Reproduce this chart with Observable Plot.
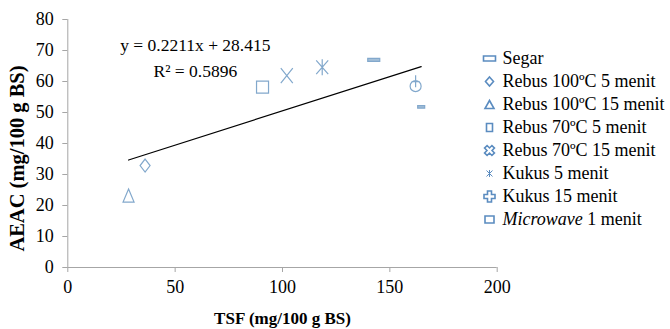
<!DOCTYPE html>
<html><head><meta charset="utf-8">
<script src="https://cdn.jsdelivr.net/npm/d3@7"></script>
<script src="https://cdn.jsdelivr.net/npm/@observablehq/plot@0.6"></script>
<style>
body{margin:0;background:#fff;}
#chart{position:relative;width:670px;height:329px;background:#fff;}
#legend{position:absolute;left:478px;top:33px;}
</style></head><body><div id="chart"></div>
<script>
// ---- data ----
const series = ["Segar","Rebus 100ºC 5 menit","Rebus 100ºC 15 menit","Rebus 70ºC 5 menit","Rebus 70ºC 15 menit","Kukus 5 menit","Kukus 15 menit","Microwave 1 menit"];
const tsf  = [142.5, 36.0, 28.3, 90.7, 102.0, 118.5, 162.0, 164.6];
const aeac = [67.0, 32.9, 23.2, 58.2, 61.9, 64.6, 58.5, 51.8];
const slope = 0.2211, intercept = 28.415;
const equationLines = ["y = 0.2211x + 28.415", "R² = 0.5896"];
const equationX = [59.4, 59.4];
const equationY = [71.6, 63.4];
const xTicks = [0, 50, 100, 150, 200];
const yTicks = [0, 10, 20, 30, 40, 50, 60, 70, 80];
const xLabel = "TSF (mg/100 g BS)";
const yLabel = "AEAC (mg/100 g BS)";

// ---- styling ----
const FONT = "'Liberation Serif','Times New Roman',serif";
const axisGray = "#a6a6a6";
const markColor = "#82a8cc";
const legendColor = "#5b8cc0";

// ---- custom symbols ----
const sym = f => ({draw(ctx){ f(ctx); }});
const rect = (w,h) => ctx => { ctx.moveTo(-w/2,-h/2); ctx.lineTo(w/2,-h/2); ctx.lineTo(w/2,h/2); ctx.lineTo(-w/2,h/2); ctx.closePath(); };
const diamond = (w,h) => ctx => { ctx.moveTo(0,-h/2); ctx.lineTo(w/2,0); ctx.lineTo(0,h/2); ctx.lineTo(-w/2,0); ctx.closePath(); };
const tri = (w,h) => ctx => { ctx.moveTo(0,-h/2); ctx.lineTo(w/2,h/2); ctx.lineTo(-w/2,h/2); ctx.closePath(); };
const cross = (w,h) => ctx => { ctx.moveTo(-w/2,-h/2); ctx.lineTo(w/2,h/2); ctx.moveTo(w/2,-h/2); ctx.lineTo(-w/2,h/2); };
const aster = (w,h) => ctx => { cross(w,h*0.85)(ctx); ctx.moveTo(0,-h/2); ctx.lineTo(0,h/2); };
const circlePlus = ctx => { ctx.moveTo(5.5,0); ctx.arc(0,0,5.5,0,2*Math.PI); ctx.moveTo(0,-11); ctx.lineTo(0,1); ctx.moveTo(-4,-4.5); ctx.lineTo(4,-4.5); };
const plusOutline = (a,L,rot) => ctx => {
  const pts = [[-a,-L],[a,-L],[a,-a],[L,-a],[L,a],[a,a],[a,L],[-a,L],[-a,a],[-L,a],[-L,-a],[-a,-a]];
  const c = Math.cos(rot), s = Math.sin(rot);
  pts.forEach(([x,y],i) => { const X = x*c - y*s, Y = x*s + y*c; i ? ctx.lineTo(X,Y) : ctx.moveTo(X,Y); });
  ctx.closePath();
};

const plotSymbols = [sym(rect(12,3)), sym(diamond(10,13)), sym(tri(11,13)), sym(rect(12,12)), sym(cross(12,15)), sym(aster(12,16)), sym(circlePlus), sym(rect(7,2.5))];
const plotFills   = ["#a3bfd8", "none", "none", "none", "none", "none", "none", "#a3bfd8"];
const legendSymbols = [sym(rect(12,5)), sym(diamond(8,9)), sym(tri(9,8)), sym(rect(6,8)), sym(plusOutline(1.8,5.2,Math.PI/4)), sym(aster(6,7)), sym(plusOutline(2,5.5,0)), sym(rect(9,7))];

// ---- trend line from the fitted equation ----
const [xMin, xMax] = d3.extent(tsf);
const trend = [xMin, xMax].map(x => ({x, y: slope * x + intercept}));

const main = Plot.plot({
  width: 670, height: 329,
  marginLeft: 67.3, marginRight: 173.3, marginTop: 19, marginBottom: 62,
  x: {domain: [0, 200], ticks: xTicks, tickSize: 5, tickPadding: 8, label: null},
  y: {domain: [0, 80], ticks: yTicks, tickSize: 5, tickPadding: 9, label: null},
  style: {fontFamily: FONT, fontSize: "18px", background: "white", color: "#000"},
  marks: [
    Plot.ruleY([0], {stroke: axisGray}),
    Plot.ruleX([0], {stroke: axisGray}),
    Plot.line(trend, {x: "x", y: "y", stroke: "#000", strokeWidth: 1.2}),
    ...series.map((s, i) => Plot.dot([i], {x: j => tsf[j], y: j => aeac[j], symbol: plotSymbols[i], stroke: markColor, fill: plotFills[i], strokeWidth: 1.2, r: 5})),
    Plot.text(equationLines, {x: (d, i) => equationX[i], y: (d, i) => equationY[i], text: d => d, fontSize: 17.5, fontFamily: FONT, fill: "#000"}),
    Plot.text([xLabel], {frameAnchor: "bottom", lineAnchor: "middle", textAnchor: "middle", dy: 51, text: d => d, fontWeight: "bold", fontSize: 17, fontFamily: FONT, fill: "#000"}),
    Plot.text([yLabel], {frameAnchor: "left", textAnchor: "middle", lineAnchor: "middle", dx: -50, dy: 15, rotate: -90, text: d => d, fontWeight: "bold", fontSize: 20.5, fontFamily: FONT, fill: "#000"})
  ]
});

// axis styling: gray ticks, black serif 18px labels
d3.select(main).selectAll('[aria-label^="x-axis"], [aria-label^="y-axis"]').each(function(){
  const g = d3.select(this);
  g.attr("font-family", FONT).style("font-family", FONT);
  g.selectAll("line, path").attr("stroke", axisGray).style("stroke", axisGray);
  g.selectAll("text").attr("font-size", 18).style("font-size", "18px").attr("font-family", FONT).style("font-family", FONT).attr("fill", "#000");
  if (g.attr("font-size")) g.attr("font-size", 18);
});

const legend = Plot.plot({
  width: 192, height: 212, margin: 0,
  x: {domain: [0, 1], axis: null},
  y: {type: "point", domain: series, range: [13.7, 197.7], axis: null},
  style: {fontFamily: FONT, fontSize: "18px", background: "transparent", overflow: "visible"},
  marks: [
    ...series.map((s, i) => Plot.dot([s], {y: d => d, frameAnchor: "left", dx: 11, symbol: legendSymbols[i], stroke: legendColor, fill: "none", strokeWidth: i === 5 ? 1 : 1.6, r: 4})),
    Plot.text(series, {y: d => d, text: d => d, frameAnchor: "left", dx: 24, textAnchor: "start", fontSize: 18, fontFamily: FONT, fill: "#000"})
  ]
});
legend.id = "legend";

d3.select(legend).selectAll("text").style("font-family", FONT).filter(function(){ return this.textContent.startsWith("Microwave"); }).each(function(){
  const t = d3.select(this);
  t.text(null);
  t.append("tspan").attr("font-style", "italic").text("Microwave");
  t.append("tspan").text(" 1 menit");
});

const chart = document.getElementById("chart");
chart.appendChild(main);
chart.appendChild(legend);
</script></body></html>
